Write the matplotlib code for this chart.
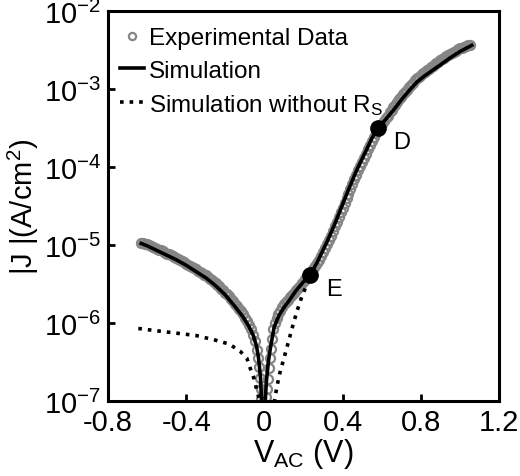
import matplotlib.pyplot as plt
import numpy as np

plt.rcParams['font.family'] = ['Liberation Sans', 'DejaVu Sans']
plt.rcParams['mathtext.fontset'] = 'custom'
plt.rcParams['mathtext.rm'] = 'Liberation Sans'
plt.rcParams['mathtext.it'] = 'Liberation Sans:italic'

v_exp = [-0.63, -0.62, -0.61, -0.60, -0.59, -0.58, -0.57, -0.56, -0.55, -0.54,
         -0.53, -0.52, -0.51, -0.50, -0.49, -0.48, -0.47, -0.46, -0.45, -0.44,
         -0.43, -0.42, -0.41, -0.40, -0.39, -0.38, -0.37, -0.36, -0.35, -0.34,
         -0.33, -0.32, -0.31, -0.30, -0.29, -0.28, -0.27, -0.26, -0.25, -0.24,
         -0.23, -0.22, -0.21, -0.20, -0.19, -0.18, -0.17, -0.16, -0.15, -0.14,
         -0.13, -0.12, -0.11, -0.10, -0.09, -0.08, -0.07, -0.06, -0.05, -0.04,
         -0.035, -0.03, -0.025, -0.02, -0.015,
         0.010, 0.015, 0.020, 0.025, 0.030, 0.033, 0.040, 0.046, 0.055, 0.063,
         0.07, 0.08, 0.09, 0.10, 0.11, 0.12, 0.13, 0.14, 0.15, 0.16,
         0.17, 0.18, 0.19, 0.20, 0.21, 0.22, 0.23, 0.24, 0.25, 0.26,
         0.27, 0.28, 0.29, 0.30, 0.31, 0.32, 0.33, 0.34, 0.35, 0.36,
         0.37, 0.38, 0.39, 0.40, 0.41, 0.42, 0.43, 0.44, 0.45, 0.46,
         0.47, 0.48, 0.49, 0.50, 0.51, 0.52, 0.53, 0.54, 0.55, 0.56,
         0.57, 0.58, 0.59, 0.60, 0.61, 0.62, 0.63, 0.64, 0.65, 0.66,
         0.67, 0.68, 0.69, 0.70, 0.71, 0.72, 0.73, 0.74, 0.75, 0.76,
         0.77, 0.78, 0.79, 0.80, 0.81, 0.82, 0.83, 0.84, 0.85, 0.86,
         0.87, 0.88, 0.89, 0.90, 0.91, 0.92, 0.93, 0.94, 0.95, 0.96,
         0.97, 0.98, 0.99, 1.00, 1.01, 1.02, 1.03, 1.04, 1.05]
logj_exp = [-4.97, -4.98, -4.99, -4.99, -5.00, -5.01, -5.03, -5.04, -5.05, -5.06,
            -5.07, -5.08, -5.10, -5.11, -5.12, -5.13, -5.14, -5.15, -5.17, -5.18,
            -5.19, -5.21, -5.22, -5.24, -5.25, -5.27, -5.28, -5.30, -5.31, -5.33,
            -5.34, -5.36, -5.38, -5.39, -5.41, -5.43, -5.45, -5.47, -5.49, -5.51,
            -5.53, -5.56, -5.58, -5.61, -5.63, -5.66, -5.69, -5.72, -5.75, -5.78,
            -5.82, -5.85, -5.89, -5.93, -5.97, -6.02, -6.08, -6.15, -6.23, -6.34,
            -6.45, -6.56, -6.70, -6.85, -6.98,
            -6.95, -6.85, -6.72, -6.58, -6.45, -6.33, -6.20, -6.08, -6.00, -5.94,
            -5.89, -5.84, -5.80, -5.76, -5.73, -5.70, -5.67, -5.64, -5.61, -5.58,
            -5.55, -5.52, -5.49, -5.46, -5.43, -5.40, -5.37, -5.34, -5.31, -5.27,
            -5.23, -5.19, -5.14, -5.09, -5.04, -4.99, -4.93, -4.88, -4.82, -4.76,
            -4.70, -4.64, -4.58, -4.52, -4.46, -4.40, -4.34, -4.28, -4.22, -4.16,
            -4.10, -4.04, -3.99, -3.93, -3.88, -3.83, -3.77, -3.72, -3.67, -3.62,
            -3.57, -3.53, -3.49, -3.45, -3.41, -3.37, -3.34, -3.30, -3.27, -3.23,
            -3.20, -3.17, -3.13, -3.10, -3.07, -3.04, -3.01, -2.98, -2.95, -2.92,
            -2.89, -2.86, -2.84, -2.82, -2.80, -2.78, -2.76, -2.74, -2.72, -2.70,
            -2.68, -2.67, -2.65, -2.63, -2.62, -2.60, -2.58, -2.57, -2.55, -2.54,
            -2.52, -2.51, -2.49, -2.48, -2.47, -2.46, -2.45, -2.44, -2.43]

# Simulation (with series resistance)
v_sim_neg = [-0.63, -0.60, -0.55, -0.50, -0.45, -0.40, -0.35, -0.30, -0.25, -0.20,
             -0.15, -0.11, -0.08, -0.057, -0.04, -0.03, -0.02, -0.014]
logj_sim_neg = [-4.98, -5.01, -5.07, -5.13, -5.19, -5.26, -5.34, -5.42, -5.52, -5.64,
                -5.79, -5.92, -6.04, -6.16, -6.30, -6.45, -6.70, -7.05]
v_sim_pos = [0.003, 0.01, 0.02, 0.03, 0.05, 0.075, 0.10, 0.13, 0.16, 0.20,
             0.233, 0.27, 0.32, 0.36, 0.39, 0.43, 0.47, 0.52, 0.55, 0.581,
             0.62, 0.66, 0.70, 0.74, 0.78, 0.82, 0.86, 0.90, 0.95, 1.00, 1.06]
logj_sim_pos = [-7.05, -6.75, -6.50, -6.33, -6.05, -5.90, -5.80, -5.70, -5.59, -5.47,
                -5.385, -5.22, -4.96, -4.73, -4.54, -4.29, -4.05, -3.79, -3.63, -3.50,
                -3.39, -3.27, -3.14, -3.02, -2.91, -2.83, -2.76, -2.69, -2.60, -2.52, -2.44]

# Simulation without Rs
v_nors_neg = [-0.645, -0.55, -0.45, -0.35, -0.25, -0.18, -0.125, -0.09, -0.074,
              -0.055, -0.04, -0.022]
logj_nors_neg = [-6.07, -6.10, -6.13, -6.16, -6.22, -6.27, -6.36, -6.45, -6.57,
                 -6.70, -6.85, -7.02]
v_nors_pos = [0.05, 0.065, 0.08, 0.10, 0.122, 0.14, 0.165, 0.19, 0.208, 0.233]
logj_nors_pos = [-7.02, -6.80, -6.63, -6.45, -6.25, -6.08, -5.86, -5.67, -5.56, -5.385]

# Marked points
pt_labels = ['E', 'D']
pt_v = [0.233, 0.581]
pt_j = [4.1e-6, 3.16e-4]

fig = plt.figure(figsize=(5.2, 4.77), dpi=100)
ax = fig.add_axes([0.2077, 0.1572, 0.752, 0.8176])

ax.plot(v_exp, 10 ** np.array(logj_exp), 'o', ms=6.5, mfc='none', mec='#858585',
        mew=1.6, label='Experimental Data', zorder=2)
ax.plot(v_sim_neg, 10 ** np.array(logj_sim_neg), '-', color='black', lw=2.6,
        label='Simulation', zorder=3)
ax.plot(v_sim_pos, 10 ** np.array(logj_sim_pos), '-', color='black', lw=2.6, zorder=3)
ax.plot(v_nors_neg, 10 ** np.array(logj_nors_neg), ':', color='black', lw=2.6,
        label='Simulation without R$_\\mathregular{S}$', zorder=3)
ax.plot(v_nors_pos, 10 ** np.array(logj_nors_pos), ':', color='black', lw=2.6, zorder=3)

ax.plot(pt_v, pt_j, 'o', color='black', ms=11, zorder=4)
for lab, v, j in zip(pt_labels, pt_v, pt_j):
    ax.annotate(lab, (v, j), xytext=(17, -10), textcoords='offset points',
                ha='center', va='center', fontsize=17)

ax.set_yscale('log')
ax.set_xlim(-0.8, 1.2)
ax.set_ylim(1e-7, 1e-2)
ax.set_xticks([-0.8, -0.4, 0, 0.4, 0.8, 1.2])
ax.set_xticklabels(['-0.8', '-0.4', '0', '0.4', '0.8', '1.2'])
yt = [1e-7, 1e-6, 1e-5, 1e-4, 1e-3, 1e-2]
ax.set_yticks(yt)
ax.set_yticklabels(['$\\mathregular{10^{-%d}}$' % k for k in [7, 6, 5, 4, 3, 2]])
ax.minorticks_off()
ax.tick_params(direction='in', length=5, width=2, labelsize=21, pad=5)
for s in ax.spines.values():
    s.set_linewidth(2.2)

ax.set_xlabel('V$_\\mathregular{AC}$ (V)', fontsize=22, labelpad=0)
ax.set_ylabel('|J |(A/cm$^\\mathregular{2}$)', fontsize=21, labelpad=2)

leg = ax.legend(loc='upper left', bbox_to_anchor=(0.03, 0.958), frameon=False,
                fontsize=17.5, handlelength=1.0, handletextpad=0.2,
                labelspacing=0.42, borderaxespad=0, borderpad=0, markerscale=0.8)

fig.savefig('out.png', dpi=100)
